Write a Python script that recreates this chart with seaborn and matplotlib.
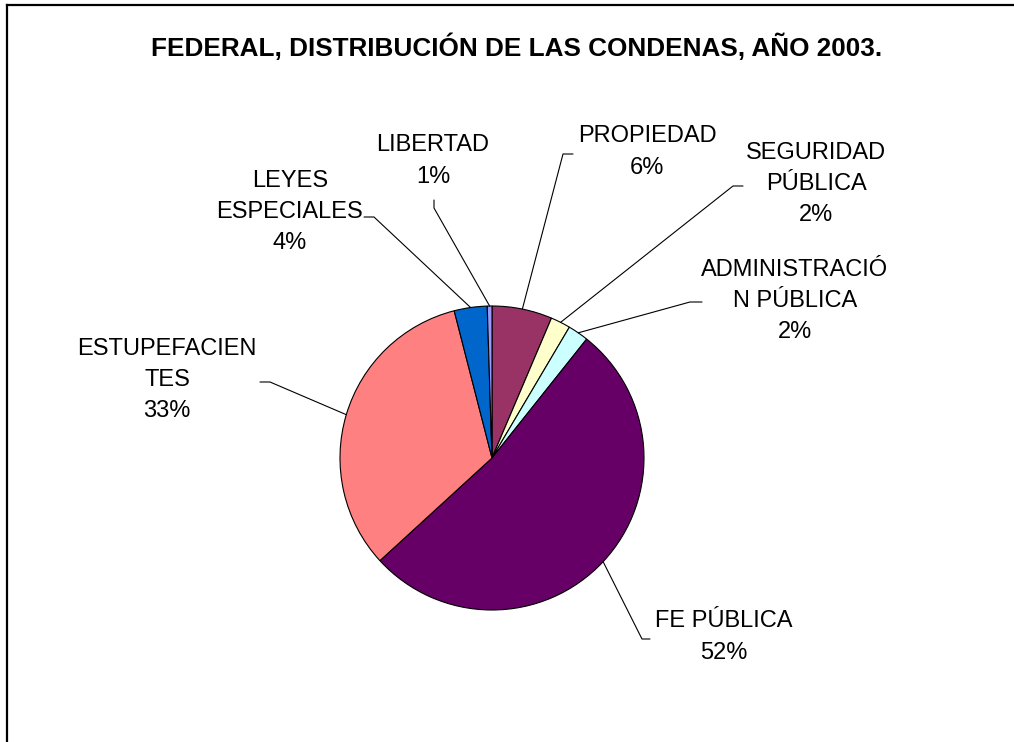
import numpy as np
import matplotlib
matplotlib.use("Agg")
import matplotlib.pyplot as plt
import seaborn as sns

# data (clockwise from 12 o'clock)
categories = ["PROPIEDAD", "SEGURIDAD\nPÚBLICA", "ADMINISTRACIÓ\nN PÚBLICA", "FE PÚBLICA",
              "ESTUPEFACIEN\nTES", "LEYES\nESPECIALES", "LIBERTAD"]
shares = [6.4, 2.1, 2.2, 52.5, 32.8, 3.5, 0.5]
pct_labels = ["6%", "2%", "2%", "52%", "33%", "4%", "1%"]
colors = ["#993366", "#FFFFCC", "#CCFFFF", "#660066", "#FF8080", "#0066CC", "#9999FF"]

# label layout in pixel coords (x, y from top): text centre, tick start, elbow
label_pos = [(647, 152), (816, 184), (795, 301), (724, 637), (167, 380), (290, 212), (433, 161)]
tick_start = [(573, 154), (743, 186), (702, 302), (650, 639), (260, 382), (364, 217), (434, 200)]
tick_elbow = [(563, 154), (733, 186), (690, 302), (642, 639), (270, 382), (374, 217), (434, 208)]

W, H = 1014, 742
CX, CY, R = 492, 458, 152

sns.set_theme(style="white")
plt.rcParams["font.family"] = ["Liberation Sans", "DejaVu Sans"]
plt.rcParams["text.color"] = "black"


def fy(y):
    # pixel row -> data y
    return H - y


fig = plt.figure(figsize=(W / 100, H / 100), dpi=100)
ax = fig.add_axes([0, 0, 1, 1])

wedges, _ = ax.pie(shares, colors=colors, startangle=90, counterclock=False,
                   center=(CX, fy(CY)), radius=R, frame=False,
                   wedgeprops=dict(edgecolor="black", linewidth=0.8))

for w, cat, pct, lp, ts, te in zip(wedges, categories, pct_labels, label_pos, tick_start, tick_elbow):
    mid = np.deg2rad((w.theta1 + w.theta2) / 2)
    ex, ey = CX + R * np.cos(mid), fy(CY) + R * np.sin(mid)
    ax.plot([ts[0], te[0], ex], [fy(ts[1]), fy(te[1]), ey], color="black", linewidth=0.8)
    ax.text(lp[0], fy(lp[1]), cat + "\n" + pct, ha="center", va="center",
            multialignment="center", fontsize=17, linespacing=1.55, color="black")

ax.text(517, fy(47), "FEDERAL, DISTRIBUCIÓN DE LAS CONDENAS, AÑO 2003.",
        ha="center", va="center", fontsize=18.8, fontweight="bold", color="black")

# chart-area border (top and left edges visible)
ax.plot([6.5, W], [fy(4.5), fy(4.5)], color="black", linewidth=1.6, solid_capstyle="projecting")
ax.plot([6.5, 6.5], [fy(4.5), 0], color="black", linewidth=1.6, solid_capstyle="projecting")

ax.set_xlim(0, W)
ax.set_ylim(0, H)
ax.set_aspect("equal")
ax.axis("off")

fig.savefig("out.png", dpi=100, facecolor="white")
